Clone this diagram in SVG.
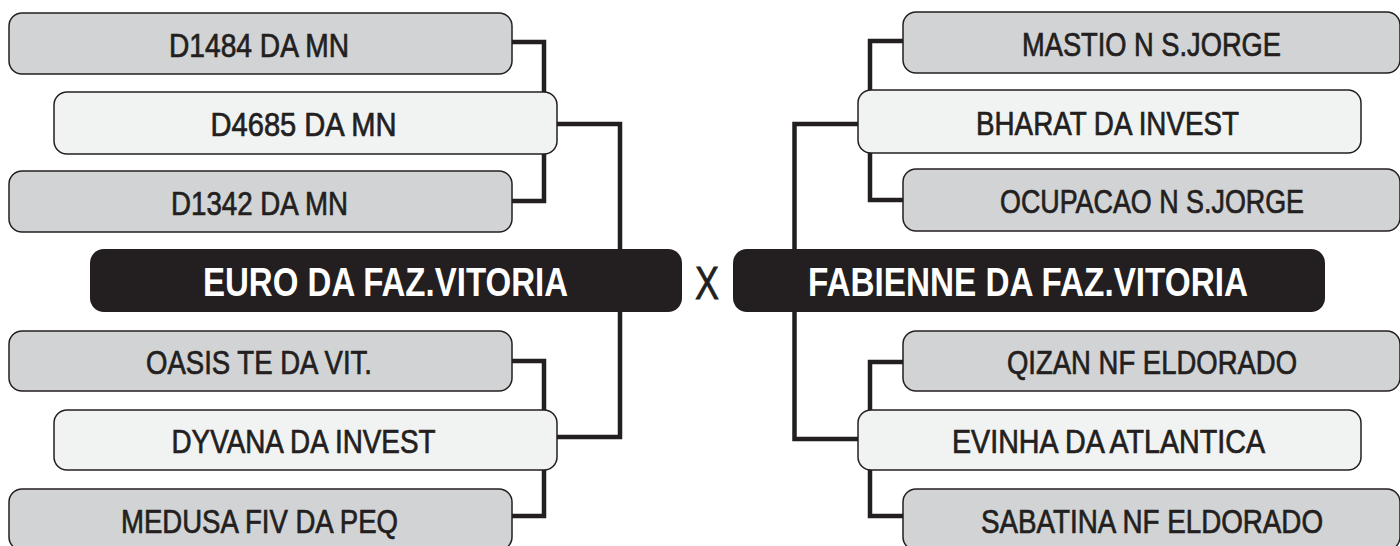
<svg xmlns="http://www.w3.org/2000/svg" width="1400" height="546" viewBox="0 0 1400 546">
  <style>
    .outer { fill: #d1d3d4; stroke: #231f20; stroke-width: 1.5; }
    .mid { fill: #f1f2f2; stroke: #231f20; stroke-width: 1.5; }
    .main { fill: #231f20; stroke: none; }
    .lbl { font-family: "Liberation Sans", Arial, sans-serif; font-size: 33px; fill: #231f20; stroke: #231f20; stroke-width: 0.7; text-anchor: middle; }
    .mlbl { font-family: "Liberation Sans", Arial, sans-serif; font-size: 40px; font-weight: bold; fill: #ffffff; text-anchor: middle; }
    .vs { font-family: "Liberation Sans", Arial, sans-serif; font-size: 46px; fill: #231f20; stroke: #231f20; stroke-width: 0.8; text-anchor: middle; }
    .conn { fill: none; stroke: #231f20; stroke-width: 4.5; stroke-linejoin: miter; }
  </style>
  <rect width="1400" height="546" fill="#ffffff"/>
  <g id="connectors">
    <path class="conn" d="M512,42 H544 V201 H512"/>
    <path class="conn" d="M557,124 H620 V437 H557"/>
    <path class="conn" d="M512,361 H544 V516 H512"/>
    <path class="conn" d="M903,41 H870 V200 H903"/>
    <path class="conn" d="M858,124 H794.5 V439 H858"/>
    <path class="conn" d="M903,362 H870 V516 H903"/>
  </g>
  <g id="n-d1484">
    <rect class="outer" x="9" y="13" width="503" height="61" rx="13"/>
    <text class="lbl" x="259" y="56.5" textLength="180" lengthAdjust="spacingAndGlyphs">D1484 DA MN</text>
  </g>
  <g id="n-d4685">
    <rect class="mid" x="54" y="92" width="503" height="62" rx="13"/>
    <text class="lbl" x="303.5" y="136" textLength="186" lengthAdjust="spacingAndGlyphs">D4685 DA MN</text>
  </g>
  <g id="n-d1342">
    <rect class="outer" x="9" y="171" width="503" height="61" rx="13"/>
    <text class="lbl" x="259.5" y="214.5" textLength="177" lengthAdjust="spacingAndGlyphs">D1342 DA MN</text>
  </g>
  <g id="n-euro">
    <rect class="main" x="90" y="249" width="592" height="63" rx="14"/>
    <text class="mlbl" x="385.5" y="296" textLength="365" lengthAdjust="spacingAndGlyphs">EURO DA FAZ.VITORIA</text>
  </g>
  <g id="n-oasis">
    <rect class="outer" x="9" y="331" width="503" height="60" rx="13"/>
    <text class="lbl" x="259" y="374" textLength="226" lengthAdjust="spacingAndGlyphs">OASIS TE DA VIT.</text>
  </g>
  <g id="n-dyvana">
    <rect class="mid" x="54" y="410" width="503" height="60" rx="13"/>
    <text class="lbl" x="303.5" y="453" textLength="264" lengthAdjust="spacingAndGlyphs">DYVANA DA INVEST</text>
  </g>
  <g id="n-medusa">
    <rect class="outer" x="9" y="489" width="503" height="61" rx="13"/>
    <text class="lbl" x="259.5" y="532.5" textLength="277" lengthAdjust="spacingAndGlyphs">MEDUSA FIV DA PEQ</text>
  </g>
  <g id="vs">
    <text class="vs" x="707" y="299" textLength="24" lengthAdjust="spacingAndGlyphs">X</text>
  </g>
  <g id="n-mastio">
    <rect class="outer" x="903" y="12" width="497" height="61" rx="13"/>
    <text class="lbl" x="1151.5" y="55.5" textLength="259" lengthAdjust="spacingAndGlyphs">MASTIO N S.JORGE</text>
  </g>
  <g id="n-bharat">
    <rect class="mid" x="858" y="90" width="503" height="63" rx="13"/>
    <text class="lbl" x="1107.5" y="134.5" textLength="263" lengthAdjust="spacingAndGlyphs">BHARAT DA INVEST</text>
  </g>
  <g id="n-ocupacao">
    <rect class="outer" x="903" y="169" width="497" height="62" rx="13"/>
    <text class="lbl" x="1152" y="213" textLength="304" lengthAdjust="spacingAndGlyphs">OCUPACAO N S.JORGE</text>
  </g>
  <g id="n-fabienne">
    <rect class="main" x="733" y="249" width="592" height="63" rx="14"/>
    <text class="mlbl" x="1028" y="296" textLength="440" lengthAdjust="spacingAndGlyphs">FABIENNE DA FAZ.VITORIA</text>
  </g>
  <g id="n-qizan">
    <rect class="outer" x="903" y="331" width="497" height="60" rx="13"/>
    <text class="lbl" x="1152" y="374" textLength="290" lengthAdjust="spacingAndGlyphs">QIZAN NF ELDORADO</text>
  </g>
  <g id="n-evinha">
    <rect class="mid" x="858" y="410" width="503" height="60" rx="13"/>
    <text class="lbl" x="1108.5" y="453" textLength="313" lengthAdjust="spacingAndGlyphs">EVINHA DA ATLANTICA</text>
  </g>
  <g id="n-sabatina">
    <rect class="outer" x="903" y="489" width="497" height="61" rx="13"/>
    <text class="lbl" x="1152" y="532.5" textLength="342" lengthAdjust="spacingAndGlyphs">SABATINA NF ELDORADO</text>
  </g>
</svg>
